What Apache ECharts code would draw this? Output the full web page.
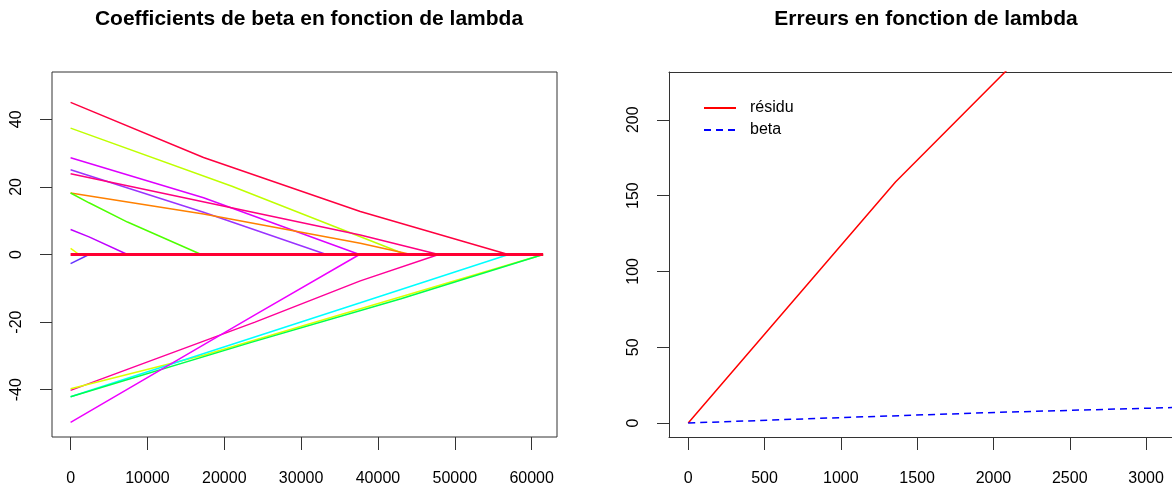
<!DOCTYPE html>
<html>
<head>
<meta charset="utf-8">
<script src="https://cdn.jsdelivr.net/npm/echarts@6/dist/echarts.min.js"></script>
<style>
  html, body { margin: 0; padding: 0; background: #fff; }
  #chart { width: 1172px; height: 487px; }
</style>
</head>
<body>
<div id="chart"></div>
<script>
// coefficient paths (lambda, beta_j)
const coefPaths = [
  [[0, 45.0], [17300, 28.7], [37700, 12.7], [56950, 0]],
  [[0, 37.4], [21000, 20.2], [43600, 0]],
  [[0, 28.6], [17300, 16.8], [37600, 0]],
  [[0, 25.1], [17300, 12.5], [33300, 0]],
  [[0, 23.9], [37700, 5.8], [47900, 0]],
  [[0, 18.2], [17300, 12.0], [37700, 3.3], [44300, 0]],
  [[0, 18.2], [2400, 15.3], [7400, 9.6], [17000, 0]],
  [[0, 7.4], [2400, 5.2], [7400, 0]],
  [[0, 1.8], [1100, 0]],
  [[0, -2.7], [2400, 0]],
  [[0, -40.2], [24000, -20.0], [37700, -7.8], [47900, 0]],
  [[0, -39.7], [17300, -29.8], [43000, -12.5], [61500, 0]],
  [[0, -42.1], [37700, -14.3], [57000, 0]],
  [[0, -42.1], [23500, -26.0], [43000, -13.1], [61500, 0]],
  [[0, -49.7], [24100, -17.7], [37600, 0]]
];
const coefColors = [
  "#FF0040", "#BFFF00", "#DD00FF", "#9933FF", "#FF0080",
  "#FF8000", "#4DFF00", "#BF00FF", "#E6FF00", "#6633FF",
  "#FF0099", "#DDFF00", "#00FFFF", "#00FF4D", "#EE00FF"
];
const zeroLine = [[0, 0], [61500, 0]];

// errors vs lambda, right panel
const residu = [[0, 0], [1358, 159], [3200, 345]];
const betaErr = [[0, 0], [1000, 3.6], [2044, 7.1], [3200, 10.3]];

const leftXTicks = [0, 10000, 20000, 30000, 40000, 50000, 60000];
const leftYTicks = [-40, -20, 0, 20, 40];
const rightXTicks = [0, 500, 1000, 1500, 2000, 2500, 3000];
const rightYTicks = [0, 50, 100, 150, 200];

const font = "Liberation Sans, Arial, Helvetica, sans-serif";
const frame = { show: true, onZero: false, lineStyle: { color: "#333", width: 1 } };

function xAxisR(idx, min, max, ticks, line) {
  return {
    type: "value", gridIndex: idx, min: min, max: max,
    axisLine: line ? frame : { show: false, onZero: false },
    splitLine: { show: false },
    axisTick: { show: true, length: 13, customValues: ticks, lineStyle: { color: "#333", width: 1 } },
    axisLabel: { customValues: ticks, margin: 34, color: "#000", fontSize: 16, fontFamily: font,
      formatter: (v) => String(v) }
  };
}
function yAxisR(idx, min, max, ticks, line) {
  return {
    type: "value", gridIndex: idx, min: min, max: max,
    axisLine: line ? frame : { show: false, onZero: false },
    splitLine: { show: false },
    axisTick: { show: true, length: 12, customValues: ticks, lineStyle: { color: "#333", width: 1 } },
    axisLabel: { customValues: ticks, rotate: 90, margin: 27, color: "#000", fontSize: 16, fontFamily: font,
      formatter: (v) => String(v) }
  };
}

const chart = echarts.init(document.getElementById("chart"));

const series = coefPaths.map((p, i) => ({
  type: "line", xAxisIndex: 0, yAxisIndex: 0, data: p,
  symbol: "none", silent: true,
  lineStyle: { color: coefColors[i], width: 1.5 }
}));
series.push({
  type: "line", xAxisIndex: 0, yAxisIndex: 0, data: zeroLine,
  symbol: "none", silent: true,
  lineStyle: { color: "#FF0033", width: 3 }
});
series.push({
  name: "résidu", type: "line", xAxisIndex: 1, yAxisIndex: 1, data: residu,
  symbol: "none", itemStyle: { color: "#FF0000" },
  lineStyle: { color: "#FF0000", width: 1.5 }
});
series.push({
  name: "beta", type: "line", xAxisIndex: 1, yAxisIndex: 1, data: betaErr,
  symbol: "none", itemStyle: { color: "#0000FF" },
  lineStyle: { color: "#0000FF", width: 1.5, type: [7, 5] }
});

chart.setOption({
  animation: false,
  backgroundColor: "#fff",
  title: [
    { text: "Coefficients de beta en fonction de lambda", left: 304, top: 4, textAlign: "center",
      textStyle: { fontSize: 21, fontWeight: "bold", color: "#000", fontFamily: font } },
    { text: "Erreurs en fonction de lambda", left: 921, top: 4, textAlign: "center",
      textStyle: { fontSize: 21, fontWeight: "bold", color: "#000", fontFamily: font } }
  ],
  legend: {
    data: ["résidu", "beta"],
    orient: "vertical", left: 698, top: 95,
    itemWidth: 32, itemHeight: 14, itemGap: 6,
    itemStyle: { opacity: 0 },
    textStyle: { fontSize: 16, color: "#000", fontFamily: font, padding: [0, 0, 0, 9] }
  },
  grid: [
    { left: 52, top: 72, width: 505, height: 365, show: true, borderColor: "#333", borderWidth: 1, backgroundColor: "transparent" },
    // the right frame runs past the window edge, so only three sides are drawn
    { left: 669, top: 72, width: 503, height: 365, show: false }
  ],
  xAxis: [
    xAxisR(0, -2420, 63300, leftXTicks, false),
    xAxisR(1, -126, 3170, rightXTicks, true),
    { type: "value", gridIndex: 1, position: "top", min: -126, max: 3170,
      axisLine: frame, axisTick: { show: false }, axisLabel: { show: false }, splitLine: { show: false } }
  ],
  yAxis: [
    yAxisR(0, -54, 54, leftYTicks, false),
    yAxisR(1, -9.2, 231.5, rightYTicks, true)
  ],
  series: series
});
</script>
</body>
</html>
